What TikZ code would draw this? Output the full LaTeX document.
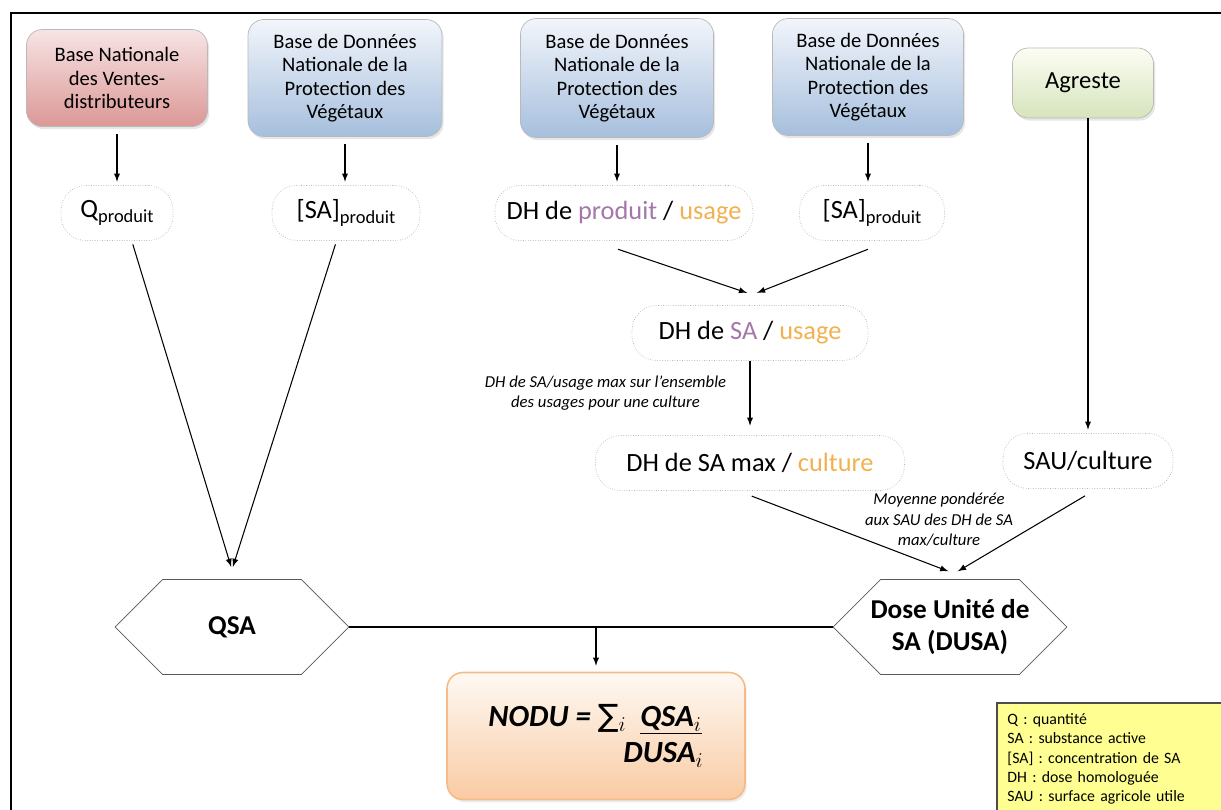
\documentclass[tikz,border=0pt]{standalone}
\usepackage{fontspec}
\setmainfont{Carlito}
\newfontfamily\symbfont{DejaVu Sans}
\usetikzlibrary{shapes.symbols,shadows,positioning}
\definecolor{pinktop}{RGB}{247,228,228}
\definecolor{pinkbot}{RGB}{219,152,150}
\definecolor{bluetop}{RGB}{242,245,251}
\definecolor{bluebot}{RGB}{166,191,221}
\definecolor{greentop}{RGB}{252,253,244}
\definecolor{greenbot}{RGB}{214,228,188}
\definecolor{nodutop}{RGB}{254,249,243}
\definecolor{nodubot}{RGB}{250,203,163}
\definecolor{noduedge}{RGB}{245,186,135}
\definecolor{violetdh}{RGB}{165,118,170}
\definecolor{orangedh}{RGB}{242,177,80}
\definecolor{legendyellow}{RGB}{255,255,145}
\newcommand{\indice}[1]{\raisebox{-0.45ex}{\fontsize{10.5}{11}\selectfont #1}}

\begin{document}
\begin{tikzpicture}[x=0.02cm,y=-0.02cm,>=latex,
   base/.style={draw=gray!55,rounded corners=9pt,align=center,
      font=\fontsize{11.7}{13.3}\selectfont,
      drop shadow={opacity=0.2,shadow xshift=1pt,shadow yshift=-1.5pt}},
   pinkbox/.style={base,top color=pinktop,bottom color=pinkbot},
   bluebox/.style={base,top color=bluetop,bottom color=bluebot},
   greenbox/.style={base,top color=greentop,bottom color=greenbot},
   data/.style={draw=gray!60,densely dotted,rounded corners=14pt,
      font=\fontsize{15}{17}\selectfont,minimum height=1.1cm},
   hexa/.style={draw=gray!70!black,signal,signal to=east and west,
      signal pointer angle=90,fill=white,align=center,inner xsep=0pt,
      font=\bfseries\fontsize{15.5}{18}\selectfont,
      minimum height=1.9cm,minimum width=4.68cm},
   note/.style={font=\itshape\fontsize{9.5}{11.7}\selectfont,align=center},
   arr/.style={->,line width=0.6pt},
   gap/.style={shorten <=4pt,shorten >=2pt}]
\useasboundingbox (0,0) rectangle (1221,810);
\clip (0,0) rectangle (1221,810);
\draw[line width=1.3pt] (1230,13) -- (11,13) -- (11,820);

\node[pinkbox,minimum width=3.62cm,minimum height=1.94cm] (bnv) at (117,78)
   {Base Nationale\\des Ventes-\\distributeurs};
\node[bluebox,minimum width=3.88cm,minimum height=2.34cm] (bdn1) at (345,78)
   {Base de Données\\Nationale de la\\Protection des\\Végétaux};
\node[bluebox,minimum width=3.86cm,minimum height=2.38cm] (bdn2) at (617,78)
   {Base de Données\\Nationale de la\\Protection des\\Végétaux};
\node[bluebox,minimum width=3.82cm,minimum height=2.34cm] (bdn3) at (868,77)
   {Base de Données\\Nationale de la\\Protection des\\Végétaux};
\node[greenbox,minimum width=2.82cm,minimum height=1.4cm,
   font=\fontsize{14}{16}\selectfont] (agr) at (1083,83) {Agreste};

\node[data,minimum width=2.24cm] (qp) at (117,213) {Q\indice{produit}};
\node[data,minimum width=2.96cm] (sap1) at (346,213) {[SA]\indice{produit}};
\node[data,minimum width=5.16cm] (dhp) at (624,213)
   {DH de \textcolor{violetdh}{produit} / \textcolor{orangedh}{usage}};
\node[data,minimum width=2.9cm] (sap2) at (872,213) {[SA]\indice{produit}};
\node[data,minimum width=4.72cm] (dhsa) at (750,333)
   {DH de \textcolor{violetdh}{SA} / \textcolor{orangedh}{usage}};
\node[data,minimum width=6.18cm] (dhmax) at (750,463)
   {DH de SA max / \textcolor{orangedh}{culture}};
\node[data,minimum width=3.4cm] (sau) at (1088,461) {SAU/culture};

\node[hexa] (qsa) at (232,627) {QSA};
\node[hexa] (dusa) at (950,627) {\makebox[2.3cm]{Dose Unité de}\\SA (DUSA)};

\node[draw=noduedge,line width=0.9pt,rounded corners=9pt,top color=nodutop,
   bottom color=nodubot,minimum width=5.96cm,minimum height=2.54cm,align=left,
   drop shadow={opacity=0.15,shadow xshift=1pt,shadow yshift=-1.5pt},
   font=\bfseries\itshape\fontsize{17.5}{20.5}\selectfont] (nodu) at (596,736)
   {NODU = {\symbfont\mdseries\itshape ∑}$_i$\ \ \underline{QSA$_i$}\\\hspace*{2.7cm}DUSA$_i$};

\node[draw=black!70,line width=1pt,fill=legendyellow,anchor=north west,
   align=left,inner sep=6pt,text width=4.6cm,
   font=\fontsize{9}{11}\selectfont] (leg) at (996,702)
   {Q : quantité\\SA : substance active\\{[SA]} : concentration de SA\\
    DH : dose homologuée\\SAU : surface agricole utile\\ };

\draw[arr,gap] (bnv) -- (qp);
\draw[arr,gap] (bdn1.south) -- (bdn1.south |- sap1.north);
\draw[arr,gap] (bdn2.south) -- (bdn2.south |- dhp.north);
\draw[arr,gap] (bdn3.south) -- (bdn3.south |- sap2.north);
\draw[arr,shorten >=2pt] (agr.south -| sau.north) -- (sau.north);
\draw[arr] ([xshift=9pt,yshift=-2pt]qp.south) -- ([xshift=-0.5pt,yshift=7pt]qsa.north);
\draw[arr] ([xshift=-6pt,yshift=-2pt]sap1.south) -- ([xshift=0.5pt,yshift=7pt]qsa.north);
\draw[arr] ([xshift=-3.4pt,yshift=-4.8pt]dhp.south) -- ([xshift=-1.7pt,yshift=7pt]dhsa.north);
\draw[arr] ([xshift=-2.3pt,yshift=-4.8pt]sap2.south) -- ([xshift=4pt,yshift=7pt]dhsa.north);
\draw[arr] (dhsa.south) -- ([yshift=5.4pt]dhmax.north)
   node[note,midway,left=10pt] {DH de SA/usage max sur l'ensemble\\des usages pour une culture};
\draw[arr] ([xshift=1pt,yshift=-3pt]dhmax.south) -- ([xshift=-1pt,yshift=4.5pt]dusa.north);
\draw[arr] ([xshift=-1.7pt,yshift=-4pt]sau.south) -- ([xshift=4.5pt,yshift=4.5pt]dusa.north);
\node[note] (moy) at (939,520) {Moyenne pondérée\\aux SAU des DH de SA\\max/culture};
\draw[line width=0.6pt] (qsa.east) -- (dusa.west);
\draw[arr] (qsa.east -| nodu.north) -- ([yshift=3.4pt]nodu.north);
\end{tikzpicture}
\end{document}
